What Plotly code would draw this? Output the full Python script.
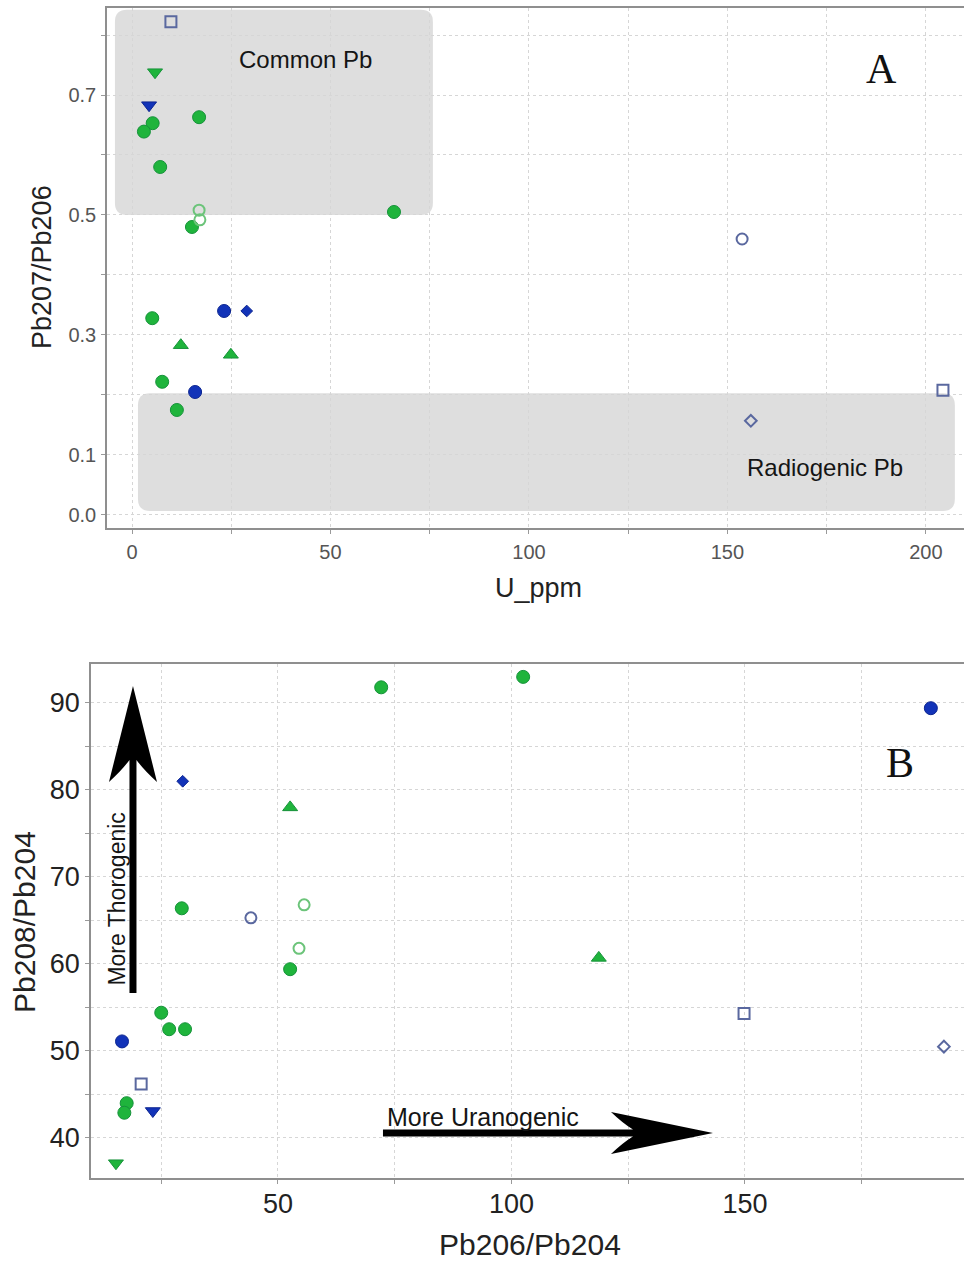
import plotly.graph_objects as go

# ---------------- Panel A: Pb207/Pb206 vs U (ppm) ----------------
A_green_circle_u = [5.2, 3.0, 16.9, 7.1, 15.1, 66.0, 5.1, 7.6, 11.3]
A_green_circle_r = [0.653, 0.639, 0.663, 0.580, 0.480, 0.505, 0.328, 0.222, 0.175]
A_green_open_u = [16.9, 17.1]
A_green_open_r = [0.508, 0.492]
A_green_up_u = [12.3, 24.9]
A_green_up_r = [0.283, 0.267]
A_green_down_u = [5.8]
A_green_down_r = [0.738]
A_blue_circle_u = [23.2, 15.9]
A_blue_circle_r = [0.340, 0.205]
A_blue_diamond_u = [28.9]
A_blue_diamond_r = [0.340]
A_blue_down_u = [4.3]
A_blue_down_r = [0.683]
A_blue_open_circle_u = [153.7]
A_blue_open_circle_r = [0.460]
A_blue_open_square_u = [9.8, 204.3]
A_blue_open_square_r = [0.822, 0.208]
A_blue_open_diamond_u = [155.9]
A_blue_open_diamond_r = [0.157]

A_ytick_vals = [0.0, 0.1, 0.2, 0.3, 0.4, 0.5, 0.6, 0.7, 0.8]
A_ytick_text = ["0.0", "0.1", "", "0.3", "", "0.5", "", "0.7", ""]
A_xtick_vals = [0, 25, 50, 75, 100, 125, 150, 175, 200]
A_xtick_text = ["0", "", "50", "", "100", "", "150", "", "200"]

# ---------------- Panel B: Pb208/Pb204 vs Pb206/Pb204 ----------------
B_green_circle_x = [72.1, 102.5, 29.4, 52.6, 25.0, 26.7, 30.1, 17.6, 17.1]
B_green_circle_y = [91.8, 93.0, 66.4, 59.4, 54.4, 52.5, 52.5, 44.0, 42.9]
B_green_open_x = [55.6, 54.5]
B_green_open_y = [66.8, 61.8]
B_green_up_x = [52.6, 118.7]
B_green_up_y = [78.0, 60.7]
B_green_down_x = [15.3]
B_green_down_y = [37.1]
B_blue_circle_x = [189.8, 16.6]
B_blue_circle_y = [89.4, 51.1]
B_blue_diamond_x = [29.6]
B_blue_diamond_y = [81.0]
B_blue_down_x = [23.2]
B_blue_down_y = [43.1]
B_blue_open_circle_x = [44.2]
B_blue_open_circle_y = [65.3]
B_blue_open_square_x = [20.7, 149.8]
B_blue_open_square_y = [46.2, 54.3]
B_blue_open_diamond_x = [192.6]
B_blue_open_diamond_y = [50.5]

B_ytick_vals = [40, 45, 50, 55, 60, 65, 70, 75, 80, 85, 90]
B_ytick_text = ["40", "", "50", "", "60", "", "70", "", "80", "", "90"]
B_xtick_vals = [25, 50, 75, 100, 125, 150, 175]
B_xtick_text = ["", "50", "", "100", "", "150", ""]

# ---------------- styling ----------------
W, H = 964, 1264
SANS = "Liberation Sans, Arial, sans-serif"
SERIF = "Liberation Serif, Times New Roman, serif"
GREEN = "#1fb43c"
GREEN_EDGE = "#16923a"
GREEN_OPEN = "#6cc47a"
BLUE = "#1233b8"
BLUE_OPEN = "#5a689f"

A_xrange = [-6.3, 209.6]
A_yrange = [-0.0217, 0.845]
A_xdom = [107 / W, 1.0]
A_ydom = [(H - 528) / H, (H - 8) / H]

B_xrange = [9.96, 196.9]
B_yrange = [35.40, 94.48]
B_xdom = [91 / W, 1.0]
B_ydom = [(H - 1178) / H, (H - 664) / H]

STYLES = {
    "green_circle": dict(symbol="circle", size=13, color=GREEN, line=dict(color=GREEN_EDGE, width=1)),
    "green_open": dict(symbol="circle-open", size=11, color=GREEN_OPEN, line=dict(width=2)),
    "green_up": dict(symbol="triangle-up", size=13, color=GREEN, line=dict(color=GREEN_EDGE, width=1)),
    "green_down": dict(symbol="triangle-down", size=13, color=GREEN, line=dict(color=GREEN_EDGE, width=1)),
    "blue_circle": dict(symbol="circle", size=13, color=BLUE, line=dict(color="#0c2590", width=1)),
    "blue_diamond": dict(symbol="diamond", size=9, color=BLUE, line=dict(color="#0c2590", width=1)),
    "blue_down": dict(symbol="triangle-down", size=13, color=BLUE, line=dict(color="#0c2590", width=1)),
    "blue_open_circle": dict(symbol="circle-open", size=11, color=BLUE_OPEN, line=dict(width=2)),
    "blue_open_square": dict(symbol="square-open", size=11, color=BLUE_OPEN, line=dict(width=2)),
    "blue_open_diamond": dict(symbol="diamond-open", size=9, color=BLUE_OPEN, line=dict(width=2)),
}

A_series = [
    ("green_circle", A_green_circle_u, A_green_circle_r),
    ("green_up", A_green_up_u, A_green_up_r),
    ("green_down", A_green_down_u, A_green_down_r),
    ("blue_circle", A_blue_circle_u, A_blue_circle_r),
    ("blue_diamond", A_blue_diamond_u, A_blue_diamond_r),
    ("blue_down", A_blue_down_u, A_blue_down_r),
    ("blue_open_circle", A_blue_open_circle_u, A_blue_open_circle_r),
    ("blue_open_square", A_blue_open_square_u, A_blue_open_square_r),
    ("blue_open_diamond", A_blue_open_diamond_u, A_blue_open_diamond_r),
    ("green_open", A_green_open_u, A_green_open_r),
]
B_series = [
    ("green_circle", B_green_circle_x, B_green_circle_y),
    ("green_open", B_green_open_x, B_green_open_y),
    ("green_up", B_green_up_x, B_green_up_y),
    ("green_down", B_green_down_x, B_green_down_y),
    ("blue_circle", B_blue_circle_x, B_blue_circle_y),
    ("blue_diamond", B_blue_diamond_x, B_blue_diamond_y),
    ("blue_down", B_blue_down_x, B_blue_down_y),
    ("blue_open_circle", B_blue_open_circle_x, B_blue_open_circle_y),
    ("blue_open_square", B_blue_open_square_x, B_blue_open_square_y),
    ("blue_open_diamond", B_blue_open_diamond_x, B_blue_open_diamond_y),
]

fig = go.Figure()
for key, xs, ys in A_series:
    fig.add_trace(go.Scatter(x=xs, y=ys, mode="markers", marker=STYLES[key],
                             xaxis="x", yaxis="y", showlegend=False, hoverinfo="x+y"))
for key, xs, ys in B_series:
    fig.add_trace(go.Scatter(x=xs, y=ys, mode="markers", marker=STYLES[key],
                             xaxis="x2", yaxis="y2", showlegend=False, hoverinfo="x+y"))


def px_scale(rng, dom, span_px):
    return (dom[1] - dom[0]) * span_px / (rng[1] - rng[0])


A_sx = px_scale(A_xrange, A_xdom, W)
A_sy = px_scale(A_yrange, A_ydom, H)
B_sx = px_scale(B_xrange, B_xdom, W)
B_sy = px_scale(B_yrange, B_ydom, H)


def rounded_box(x0, x1, y0, y1, sx, sy, radius=12):
    rx, ry = radius / sx, radius / sy
    return (f"M {x0 + rx},{y0} L {x1 - rx},{y0} Q {x1},{y0} {x1},{y0 + ry} "
            f"L {x1},{y1 - ry} Q {x1},{y1} {x1 - rx},{y1} L {x0 + rx},{y1} "
            f"Q {x0},{y1} {x0},{y1 - ry} L {x0},{y0 + ry} Q {x0},{y0} {x0 + rx},{y0} Z")


def arrow_path(tail, tip, sx, sy, shaft=3.5, head_len=98, head_half=23, notch=22):
    # work in pixel units (y up), then map back to data units
    dx = (tip[0] - tail[0]) * sx
    dy = (tip[1] - tail[1]) * sy
    L = (dx ** 2 + dy ** 2) ** 0.5
    ux, uy = dx / L, dy / L
    nx, ny = -uy, ux

    def pt(a, b):
        px = ux * a + nx * b
        py = uy * a + ny * b
        return f"{tail[0] + px / sx},{tail[1] + py / sy}"

    base = L - head_len
    return ("M " + pt(0, -shaft) + " L " + pt(base + notch, -shaft)
            + " Q " + pt(base + notch * 0.55, -head_half * 0.45) + " " + pt(base, -head_half)
            + " L " + pt(L, 0) + " L " + pt(base, head_half)
            + " Q " + pt(base + notch * 0.55, head_half * 0.45) + " " + pt(base + notch, shaft)
            + " L " + pt(0, shaft) + " Z")


BOX_FILL = "rgba(222,222,222,1)"
shapes = [
    dict(type="path", xref="x", yref="y", layer="below", line=dict(width=0), fillcolor=BOX_FILL,
         path=rounded_box(-4.3, 75.8, 0.500, 0.842, A_sx, A_sy)),
    dict(type="path", xref="x", yref="y", layer="below", line=dict(width=0), fillcolor=BOX_FILL,
         path=rounded_box(1.5, 207.3, 0.0067, 0.203, A_sx, A_sy)),
    dict(type="path", xref="x2", yref="y2", line=dict(width=0), fillcolor="#000000",
         path=arrow_path((18.95, 56.67), (18.95, 91.95), B_sx, B_sy, head_len=96, head_half=24)),
    dict(type="path", xref="x2", yref="y2", line=dict(width=0), fillcolor="#000000",
         path=arrow_path((72.48, 40.57), (143.15, 40.57), B_sx, B_sy, head_len=102, head_half=21)),
]

annotations = [
    dict(text="Common Pb", x=43.8, y=0.760, xref="x", yref="y", showarrow=False,
         font=dict(family=SANS, size=24, color="#151515")),
    dict(text="Radiogenic Pb", x=174.6, y=0.079, xref="x", yref="y", showarrow=False,
         font=dict(family=SANS, size=24, color="#151515")),
    dict(text="A", x=188.7, y=0.743, xref="x", yref="y", showarrow=False,
         font=dict(family=SERIF, size=42, color="#111111")),
    dict(text="B", x=183.2, y=83.1, xref="x2", yref="y2", showarrow=False,
         font=dict(family=SERIF, size=42, color="#111111")),
    dict(text="More Thorogenic", x=15.5, y=67.5, xref="x2", yref="y2", showarrow=False,
         textangle=-90, font=dict(family=SANS, size=23, color="#151515")),
    dict(text="More Uranogenic", x=72.9, y=42.4, xref="x2", yref="y2", showarrow=False,
         xanchor="left", yanchor="middle", font=dict(family=SANS, size=25, color="#151515")),
    # axis titles
    dict(text="Pb207/Pb206", x=42 / W, y=(H - 267) / H, xref="paper", yref="paper",
         xanchor="center", yanchor="middle",
         showarrow=False, textangle=-90, font=dict(family=SANS, size=27, color="#222222")),
    dict(text="U_ppm", x=538 / W, y=(H - 588) / H, xref="paper", yref="paper",
         xanchor="center", yanchor="middle",
         showarrow=False, font=dict(family=SANS, size=27, color="#222222")),
    dict(text="Pb208/Pb204", x=24 / W, y=(H - 922) / H, xref="paper", yref="paper",
         xanchor="center", yanchor="middle",
         showarrow=False, textangle=-90, font=dict(family=SANS, size=30, color="#222222")),
    dict(text="Pb206/Pb204", x=530 / W, y=(H - 1244) / H, xref="paper", yref="paper",
         xanchor="center", yanchor="middle",
         showarrow=False, font=dict(family=SANS, size=30, color="#222222")),
]

axis_common = dict(showline=True, linecolor="#8f8f8f", linewidth=1.5, showgrid=True,
                   gridcolor="#d6d6d6", griddash="dot", gridwidth=1, zeroline=False,
                   ticks="outside", ticklen=4, tickcolor="#9a9a9a", tickmode="array")

fig.update_layout(
    width=W, height=H, margin=dict(l=0, r=0, t=0, b=0),
    paper_bgcolor="white", plot_bgcolor="white", showlegend=False,
    shapes=shapes, annotations=annotations,
    xaxis=dict(axis_common, domain=A_xdom, range=A_xrange, anchor="y", mirror=True,
               tickvals=A_xtick_vals, ticktext=A_xtick_text, ticklabelstandoff=1,
               tickfont=dict(family=SANS, size=20, color="#555555")),
    yaxis=dict(axis_common, domain=A_ydom, range=A_yrange, anchor="x",
               tickvals=A_ytick_vals, ticktext=A_ytick_text, ticklabelstandoff=1,
               tickfont=dict(family=SANS, size=20, color="#555555")),
    xaxis2=dict(axis_common, domain=B_xdom, range=B_xrange, anchor="y2", mirror=True,
                tickvals=B_xtick_vals, ticktext=B_xtick_text, ticklabelstandoff=-3,
                tickfont=dict(family=SANS, size=27, color="#222222")),
    yaxis2=dict(axis_common, domain=B_ydom, range=B_yrange, anchor="x2",
                tickvals=B_ytick_vals, ticktext=B_ytick_text, ticklabelstandoff=0,
                tickfont=dict(family=SANS, size=27, color="#222222")),
)

fig.write_html("out.html")
